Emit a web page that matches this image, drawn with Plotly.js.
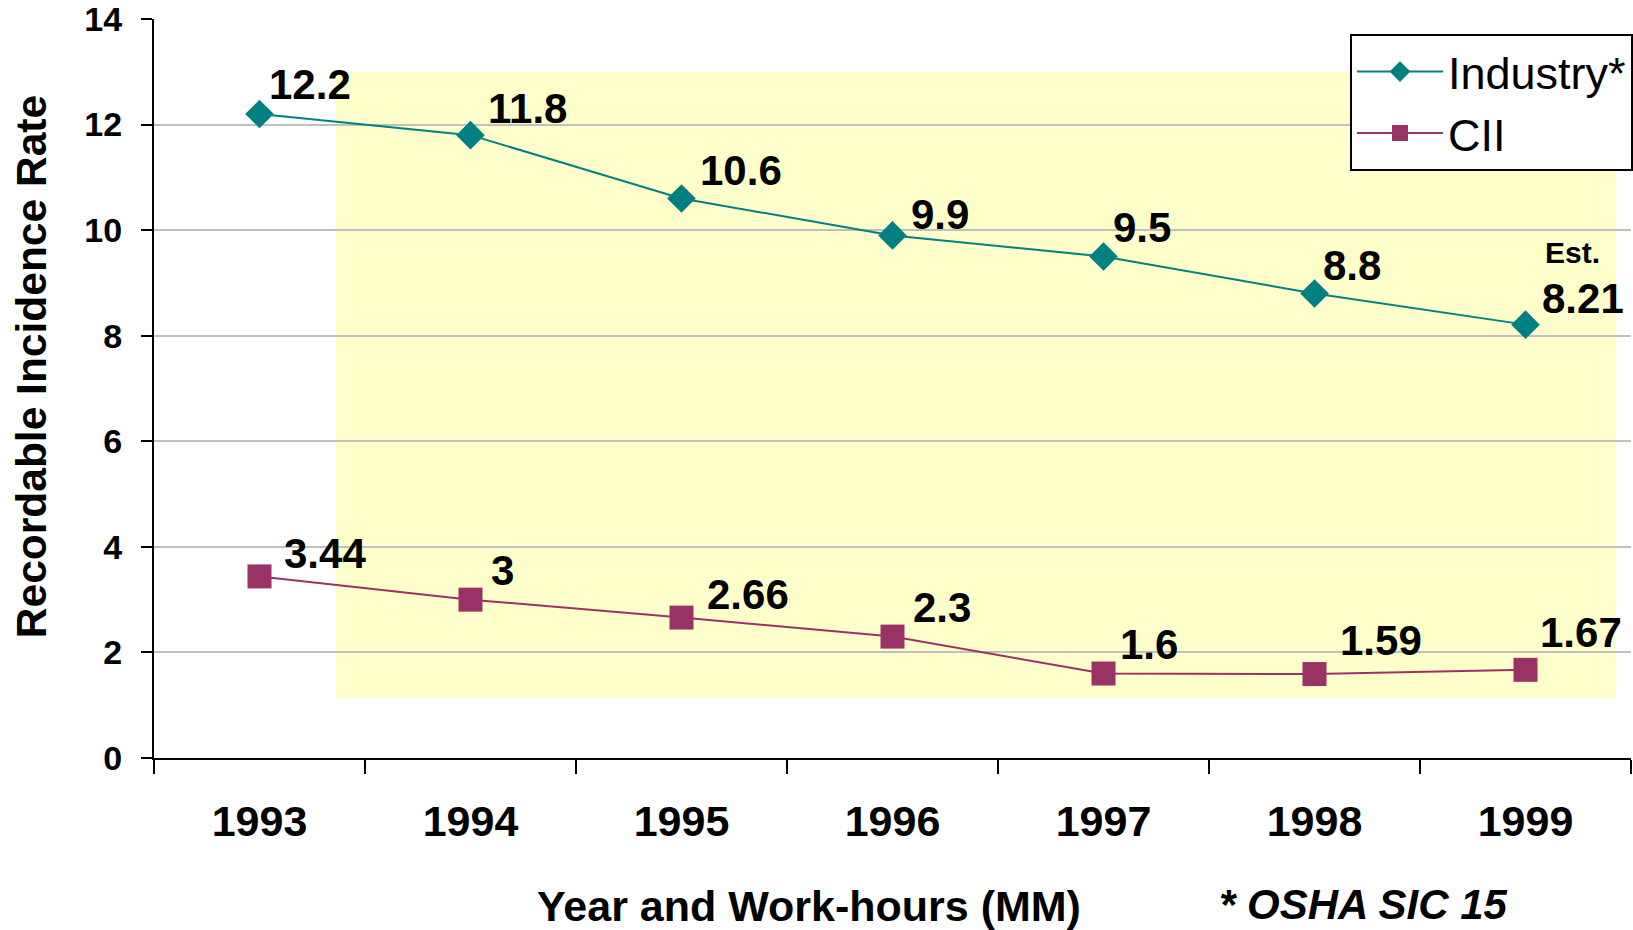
<!DOCTYPE html>
<html>
<head>
<meta charset="utf-8">
<script src="https://cdn.plot.ly/plotly-3.0.1.min.js"></script>
<style>
  html, body { margin: 0; padding: 0; background: #fff; }
  #chart { width: 1633px; height: 930px; }
</style>
</head>
<body>
<div id="chart"></div>
<script>
/* ── data ── */
const YEARS    = ['1993', '1994', '1995', '1996', '1997', '1998', '1999'];
const INDUSTRY = [12.2, 11.8, 10.6, 9.9, 9.5, 8.8, 8.21];
const CII      = [3.44, 3, 2.66, 2.3, 1.6, 1.59, 1.67];
const IND_LABELS = ['12.2', '11.8', '10.6', '9.9', '9.5', '8.8', '8.21'];
const CII_LABELS = ['3.44', '3', '2.66', '2.3', '1.6', '1.59', '1.67'];

/* label nudges, px (dx right, dy up) */
const IND_NUDGE = [[7, 30], [15, 27], [16, 28], [16, 21], [7, 29], [6, 28], [14, 26]];
const CII_NUDGE = [[22, 23], [18, 29], [23, 23], [18, 29], [14, 29], [23, 34], [12, 37]];

const FONT = 'Arial, "Liberation Sans", sans-serif';
const TEAL = '#008080';
const PLUM = '#993366';

const traces = [
  {
    x: YEARS, y: INDUSTRY, name: 'Industry*',
    mode: 'lines+markers', type: 'scatter',
    line: { color: TEAL, width: 2 },
    marker: { symbol: 'diamond', size: 22, color: TEAL }
  },
  {
    x: YEARS, y: CII, name: 'CII',
    mode: 'lines+markers', type: 'scatter',
    line: { color: PLUM, width: 2 },
    marker: { symbol: 'square', size: 24, color: PLUM }
  }
];

const bold = (size) => ({ family: FONT, size: size, color: '#000', weight: 'bold' });

// on a category axis annotations take the category index
const labels = [];
YEARS.forEach((yr, i) => {
  labels.push({
    x: i, y: INDUSTRY[i], text: IND_LABELS[i], showarrow: false,
    xanchor: 'left', yanchor: 'middle',
    xshift: IND_NUDGE[i][0], yshift: IND_NUDGE[i][1], font: bold(42)
  });
  labels.push({
    x: i, y: CII[i], text: CII_LABELS[i], showarrow: false,
    xanchor: 'left', yanchor: 'middle',
    xshift: CII_NUDGE[i][0], yshift: CII_NUDGE[i][1], font: bold(42)
  });
});
// "Est." above the last industry value
labels.push({
  x: YEARS.length - 1, y: INDUSTRY[6], text: 'Est.', showarrow: false,
  xanchor: 'left', yanchor: 'middle', xshift: 17, yshift: 72, font: bold(30)
});

/* axis titles and footnote */
labels.push({
  xref: 'paper', yref: 'paper', x: 0.4435, y: -0.2003,
  text: 'Year and Work-hours (MM)', showarrow: false,
  xanchor: 'center', yanchor: 'middle', font: bold(43)
});
labels.push({
  xref: 'paper', yref: 'paper', x: 0.8188, y: -0.1976,
  text: '<i>* OSHA SIC 15</i>', showarrow: false,
  xanchor: 'center', yanchor: 'middle', font: bold(42)
});
labels.push({
  xref: 'paper', yref: 'paper', x: -0.0832, y: 0.529,
  text: 'Recordable Incidence Rate', showarrow: false, textangle: -90,
  xanchor: 'center', yanchor: 'middle', font: bold(42.5)
});

const layout = {
  width: 1633, height: 930,
  margin: { l: 154, r: 0, t: 19, b: 172, pad: 0 },
  paper_bgcolor: '#fff', plot_bgcolor: '#fff',
  font: { family: FONT, color: '#000' },
  showlegend: true,
  legend: {
    x: 0.81, y: 0.98, xanchor: 'left', yanchor: 'top',
    bgcolor: '#fff', bordercolor: '#000', borderwidth: 2,
    font: { family: FONT, size: 45, color: '#000' },
    itemwidth: 86, entrywidth: 200
  },
  xaxis: {
    type: 'category', range: [-0.5, 6.5], tickson: 'boundaries',
    ticks: 'outside', ticklen: 14, tickwidth: 2, tickcolor: '#000',
    showline: true, linecolor: '#000', linewidth: 2,
    showgrid: false, zeroline: false, tickangle: 0,
    tickfont: bold(43), ticklabelstandoff: 24
  },
  yaxis: {
    range: [0, 14], dtick: 2,
    ticks: 'outside', ticklen: 11, tickwidth: 2, tickcolor: '#000',
    showline: true, linecolor: '#000', linewidth: 2,
    gridcolor: '#c0c0c0', gridwidth: 2, zeroline: false,
    tickfont: bold(34), ticklabelstandoff: 12, ticklabeloverflow: 'allow'
  },
  shapes: [{
    type: 'rect', xref: 'x', yref: 'y', layer: 'below',
    x0: 0.36, x1: 6.43, y0: 1.15, y1: 13,
    fillcolor: '#ffffcc', line: { width: 0 }
  }],
  annotations: labels
};

Plotly.newPlot('chart', traces, layout, { displayModeBar: false });
</script>
</body>
</html>
